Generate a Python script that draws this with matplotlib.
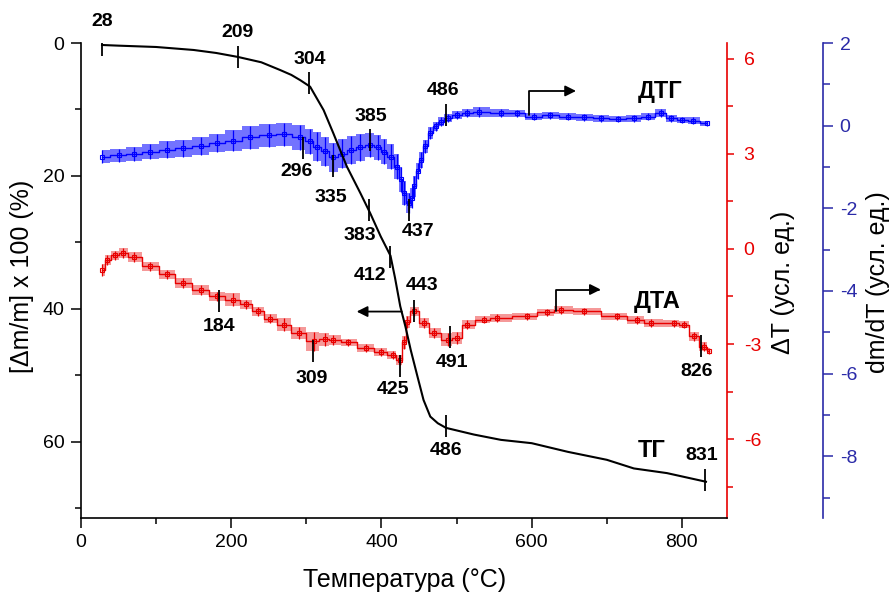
import numpy as np
import matplotlib.pyplot as plt
from matplotlib.ticker import MultipleLocator

plt.rcParams['font.family'] = ['Liberation Sans', 'DejaVu Sans']
plt.rcParams['axes.unicode_minus'] = False

# ТГ, left axis (%)
t_tg = [28, 50, 100, 150, 180, 209, 240, 265, 280, 292, 305, 323, 336, 354, 372, 385,
        399, 412, 418, 425, 432, 439, 448, 456, 465, 475, 486, 523, 559, 600, 648, 700,
        736, 780, 832]
tg = [0.3, 0.4, 0.6, 1.05, 1.5, 2.1, 2.9, 4.06, 4.8, 5.6, 6.57, 10.1, 13.6, 18.6, 22.6,
      25.6, 29.1, 32.0, 35.3, 39.6, 42.7, 46.2, 50.2, 53.7, 56.2, 57.2, 57.9, 58.9, 59.7,
      60.2, 61.5, 62.7, 64.0, 64.7, 66.0]

# ДТА, red axis
t_dta = [28, 35, 45, 56, 70, 92, 115, 136, 160, 181, 203, 220, 235, 252, 270, 290,
         310, 325, 336, 355, 380, 400, 415, 425, 430, 434, 443, 456, 470, 488, 501,
         514, 536, 554, 594, 620, 639, 670, 714, 740, 759, 790, 803, 816, 830, 836]
dta = [-0.66, -0.35, -0.2, -0.13, -0.25, -0.55, -0.8, -1.07, -1.3, -1.5, -1.6, -1.75,
       -1.97, -2.2, -2.39, -2.65, -2.92, -2.85, -2.87, -2.95, -3.13, -3.25, -3.35, -3.5,
       -2.95, -2.3, -1.97, -2.34, -2.65, -2.86, -2.81, -2.39, -2.23, -2.18, -2.13,
       -2.0, -1.92, -1.97, -2.13, -2.25, -2.34, -2.35, -2.39, -2.76, -3.08, -3.23]
dta_err = [0.2, 0.15, 0.15, 0.15, 0.15, 0.15, 0.15, 0.15, 0.15, 0.15, 0.2, 0.15,
           0.15, 0.15, 0.2, 0.2, 0.3, 0.2, 0.15, 0.12, 0.12, 0.12, 0.12, 0.15,
           0.2, 0.2, 0.15, 0.15, 0.15, 0.2, 0.2, 0.15, 0.12, 0.12, 0.12,
           0.12, 0.12, 0.12, 0.12, 0.12, 0.12, 0.12, 0.12, 0.15, 0.15, 0.1]

# ДТГ, blue axis
t_dtg = [28, 50, 70, 92, 115, 136, 160, 181, 203, 225, 250, 270, 292, 305, 314, 325,
         336, 348, 359, 372, 385, 395, 403, 413, 421, 426, 430, 436, 440, 443, 448,
         452, 458, 465, 472, 479, 488, 500, 514, 530, 559, 580, 603, 625, 648, 670,
         692, 715, 736, 755, 772, 786, 800, 815, 834]
dtg = [-0.75, -0.72, -0.68, -0.63, -0.58, -0.55, -0.5, -0.42, -0.36, -0.28, -0.23,
       -0.21, -0.28, -0.38, -0.51, -0.62, -0.76, -0.68, -0.59, -0.52, -0.47, -0.52,
       -0.63, -0.75, -0.99, -1.3, -1.63, -1.87, -1.75, -1.47, -1.1, -0.83, -0.5,
       -0.18, -0.02, 0.10, 0.18, 0.25, 0.30, 0.32, 0.30, 0.30, 0.22, 0.25, 0.22,
       0.20, 0.18, 0.16, 0.18, 0.22, 0.30, 0.18, 0.14, 0.12, 0.06]
dtg_err = [0.16, 0.16, 0.17, 0.18, 0.2, 0.2, 0.22, 0.22, 0.25, 0.28, 0.28, 0.28, 0.3,
           0.3, 0.35, 0.35, 0.35, 0.35, 0.33, 0.33, 0.3, 0.3, 0.3, 0.3, 0.3, 0.3, 0.3,
           0.25, 0.25, 0.25, 0.2, 0.2, 0.15, 0.15, 0.12, 0.12, 0.1, 0.1, 0.1, 0.12, 0.1,
           0.08, 0.08, 0.08, 0.08, 0.08, 0.08, 0.08, 0.08, 0.08, 0.1, 0.08, 0.08, 0.08, 0.06]

# marked points (temperature, value)
tg_mark_t = [28, 209, 304, 383, 412, 486, 831]
tg_mark_v = [0.3, 2.18, 6.0, 25.1, 32.2, 57.6, 65.8]
dtg_mark_t = [296, 335, 385, 437, 486]
dtg_mark_v = [-0.54, -0.98, -0.34, -2.03, 0.26]
dta_mark_t = [184, 309, 425, 443, 491, 826]
dta_mark_v = [-1.65, -3.23, -3.68, -1.95, -2.77, -3.05]

# label offsets for the marks (pixels, x right / y down)
tg_off = [(0, -23), (0, -25), (0, -23), (-9, 26), (-20, 18), (0, 25), (-4, -25)]
dtg_off = [(-7, 24), (-2, 31), (1, -23), (9, 22), (-3, -24)]
dta_off = [(0, 25), (-1, 27), (-7, 24), (8, -25), (2, 26), (-5, 26)]

RED = '#e80000'
BLUE = '#0000ff'
BLUE_AX = '#2a2aa8'

fig = plt.figure(figsize=(8.93, 5.92), dpi=100)
ax = fig.add_axes([81 / 893, 1 - 518.3 / 592, 646 / 893, 475.3 / 592])
ax_r = ax.twinx()
ax_b = ax.twinx()
ax.set_zorder(3)
ax.patch.set_visible(False)
ax_r.set_zorder(2)
ax_b.set_zorder(1)

for a in (ax, ax_r, ax_b):
    for s in a.spines.values():
        s.set_visible(False)
    a.set_xlim(0, 860)

ax.spines['left'].set_visible(True)
ax.spines['bottom'].set_visible(True)
ax_r.spines['right'].set_visible(True)
ax_r.spines['right'].set_color(RED)
ax_b.spines['right'].set_visible(True)
ax_b.spines['right'].set_color(BLUE_AX)
ax_b.spines['right'].set_position(('axes', 1 + 96 / 646))
for s in (ax.spines['left'], ax.spines['bottom'], ax_r.spines['right'], ax_b.spines['right']):
    s.set_linewidth(1.2)


def noisy(a, t, v, err, color, band_alpha):
    t = np.asarray(t)
    v = np.asarray(v)
    err = np.asarray(err)
    a.fill_between(t, v - err, v + err, step='mid', color=color, alpha=band_alpha, lw=0)
    a.errorbar(t, v, yerr=err, fmt='s-', color=color, ms=3.5, mfc='none', mec=color,
               mew=0.8, lw=1.0, elinewidth=0.9, capsize=0, drawstyle='steps-mid')


noisy(ax_b, t_dtg, dtg, dtg_err, BLUE, 0.55)
noisy(ax_r, t_dta, dta, dta_err, RED, 0.4)
ax.plot(t_tg, tg, color='black', lw=1.5)

# limits and ticks
ax.set_ylim(71.5, 0)
ax_r.set_ylim(-8.5, 6.5)
ax_b.set_ylim(-9.5, 2)
ax.xaxis.set_major_locator(MultipleLocator(200))
ax.xaxis.set_minor_locator(MultipleLocator(100))
ax.yaxis.set_major_locator(MultipleLocator(20))
ax.yaxis.set_minor_locator(MultipleLocator(10))
ax_r.yaxis.set_major_locator(MultipleLocator(3))
ax_r.yaxis.set_minor_locator(MultipleLocator(1.5))
ax_b.yaxis.set_major_locator(MultipleLocator(2))
ax_b.yaxis.set_minor_locator(MultipleLocator(1))

ax.tick_params(which='major', direction='out', length=7, width=1.1, labelsize=14, pad=4)
ax.tick_params(which='minor', direction='out', length=4, width=1.1)
ax.tick_params(axis='y', pad=5)
ax_r.tick_params(which='major', direction='out', length=5, width=1.1, colors=RED,
                 labelsize=14, pad=7)
ax_r.tick_params(which='minor', direction='out', length=4, width=1.1, colors=RED)
ax_b.tick_params(which='major', direction='out', length=7, width=1.1, colors=BLUE_AX,
                 labelsize=14, pad=5)
ax_b.tick_params(which='minor', direction='out', length=5, width=1.1, colors=BLUE_AX)

# axis labels
ax.set_xlabel('Температура (°C)', fontsize=18, va='center')
ax.xaxis.set_label_coords(0.5015, -0.13)
ax.set_ylabel('[Δm/m] x 100 (%)', fontsize=18, va='center')
ax.yaxis.set_label_coords(-0.092, 0.508)
ax_r.set_ylabel('ΔT (усл. ед.)', fontsize=18, va='center')
ax_r.yaxis.set_label_coords(1.0867, 0.497)
ax_b.set_ylabel('dm/dT (усл. ед.)', fontsize=18, va='center')
ax_b.yaxis.set_label_coords(1.2337, 0.497)


def mark(a, ts, vs, offs, msize=16):
    a.plot(ts, vs, ls='none', marker='|', ms=msize, mew=1.3, color='black', zorder=5)
    for t, v, (dx, dy) in zip(ts, vs, offs):
        a.annotate(str(t), (t, v), xytext=(dx * 0.72, -dy * 0.72), textcoords='offset points',
                   ha='center', va='center', fontsize=14, fontweight='bold', zorder=6)


mark(ax, tg_mark_t, tg_mark_v, tg_off)
mark(ax_b, dtg_mark_t, dtg_mark_v, dtg_off)
mark(ax_r, dta_mark_t, dta_mark_v, dta_off)

# arrows pointing to the axes
arr = dict(arrowstyle='-|>', color='black', lw=1.3, mutation_scale=16, shrinkA=0, shrinkB=0)
ax.annotate('', xy=(367, 40.4), xytext=(427, 40.4), arrowprops=arr)
ax_b.annotate('', xy=(659, 0.84), xytext=(597, 0.26),
              arrowprops=dict(arr, connectionstyle='angle,angleA=90,angleB=0,rad=0'))
ax_r.annotate('', xy=(692, -1.28), xytext=(632, -1.97),
              arrowprops=dict(arr, connectionstyle='angle,angleA=90,angleB=0,rad=0'))

ax.text(0.896, 0.897, 'ДТГ', transform=ax.transAxes, fontsize=17, fontweight='bold',
        ha='center', va='center')
ax.text(0.892, 0.457, 'ДТА', transform=ax.transAxes, fontsize=17, fontweight='bold',
        ha='center', va='center')
ax.text(0.884, 0.1416, 'ТГ', transform=ax.transAxes, fontsize=17, fontweight='bold',
        ha='center', va='center')

fig.savefig('out.png', dpi=100)
